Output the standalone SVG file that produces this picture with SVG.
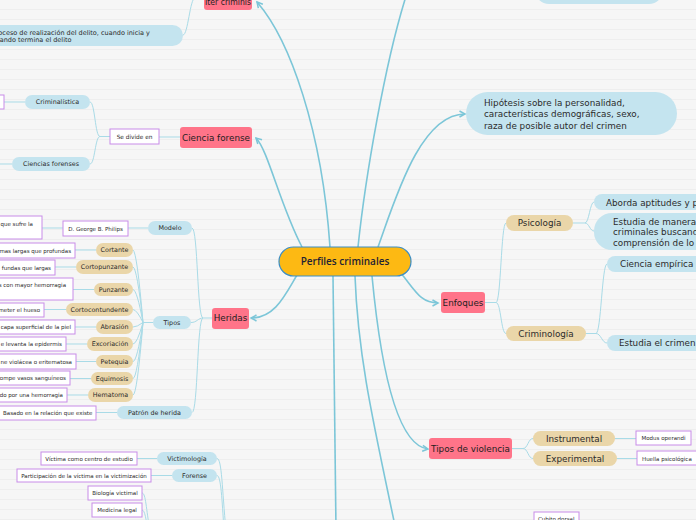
<svg xmlns="http://www.w3.org/2000/svg" width="696" height="520" viewBox="0 0 696 520">
<defs>
<pattern id="bg" width="10" height="10" patternUnits="userSpaceOnUse"><rect width="10" height="10" fill="#f6f6f6"/><line x1="0" y1="9.5" x2="10" y2="9.5" stroke="#eeeeee" stroke-width="1"/></pattern>
<marker id="arr" markerUnits="userSpaceOnUse" markerWidth="10" markerHeight="10" refX="6.5" refY="4" orient="auto"><path d="M1,1 L6.5,4 L1,7" fill="none" stroke="#7cc6d8" stroke-width="1.5"/></marker>
</defs>
<style>
text{font-family:"DejaVu Sans",Verdana,sans-serif;fill:#2b2b2b}
.main{fill:none;stroke:#7cc6d8;stroke-width:1.6}
.sub{fill:none;stroke:#a9dbe7;stroke-width:1}
.pink{fill:#ff7489}
.pink+text,.pt{font-size:8.8px;text-anchor:middle;fill:#1e1e1e}
.blue{fill:#c4e4ef}
.tan{fill:#ead6a9}
.pur{fill:#ffffff;stroke:#c88ce8;stroke-width:1}
.s{font-size:6.4px;text-anchor:middle}
.p{font-size:5.5px}
.pc{font-size:5.5px;text-anchor:middle}
.pe{font-size:5.5px;text-anchor:end}
.l{font-size:8.8px}
</style>
<rect width="696" height="520" fill="url(#bg)"/>

<g id="connectors">
<path class="main" d="M330 247 C322 130 290 40 257 2" marker-end="url(#arr)"/>
<path class="main" d="M302 247 C280 205 268 150 256 138" marker-end="url(#arr)"/>
<path class="main" d="M358 247 C365 180 385 60 408 -10"/>
<path class="main" d="M378 247 C395 200 420 114 465 114" marker-end="url(#arr)"/>
<path class="main" d="M297 275 C285 295 275 318 251 318" marker-end="url(#arr)"/>
<path class="main" d="M400 272 C415 290 420 303 438 303" marker-end="url(#arr)"/>
<path class="main" d="M372 276 C380 360 395 445 428 449" marker-end="url(#arr)"/>
<path class="main" d="M333 276 L336 530"/>
<path class="main" d="M355 276 C358 360 375 430 398 540"/>

<path class="sub" d="M204 -2 L195 -2 C190 -2 188 35 183 35"/>
<path class="sub" d="M180 137 L159 137"/>
<path class="sub" d="M110 136.5 L100 136.5 M100 136.5 C95 136.5 95 102 90 102 M100 136.5 C95 136.5 95 164 90 164"/>
<path class="sub" d="M25 102 L4 102 M12 164 L-5 164"/>
<path class="sub" d="M212 318 L203 318 M203 318 C197 318 198 228 192 228 M203 318 C198 318 197 322.5 191 322.5 M203 318 C197 318 198 412.5 192 412.5"/>
<path class="sub" d="M148 228 L128 228 M63 228 L42 228 M117 412.5 L96 412.5"/>
<path class="sub" d="M153 322.5 L143 322.5"/>
<path class="sub" d="M143 322.5 Q137 252 133 250 M143 322.5 Q137 268 133 267 M143 322.5 Q137 290 133 289.5 M143 322.5 Q137 310 133 309.5 M143 322.5 Q137 327 133 327 M143 322.5 Q137 344 133 344 M143 322.5 Q137 361.5 133 361.5 M143 322.5 Q137 378.5 133 378.5 M143 322.5 Q137 395 133 395"/>
<path class="sub" d="M96 250 L75 250 M76 267 L55 267 M94 289.5 L73 289.5 M66 309.5 L44 309.5 M96 327 L75 327 M87 344 L66 344 M96 361.5 L76 361.5 M91 378.5 L70 378.5 M88 395 L67 395"/>
<path class="sub" d="M485 302.5 L496 302.5 M496 302.5 C501 302.5 501 223 506 223 M496 302.5 C501 302.5 501 333.5 506 333.5"/>
<path class="sub" d="M573 223 L585 223 M585 223 C589 223 590 202 594 202 M585 223 C589 223 590 231 594 231"/>
<path class="sub" d="M586 333.5 L596 333.5 M596 333.5 C601 333.5 602 264 607 264 M596 333.5 C601 333.5 602 343 607 343"/>
<path class="sub" d="M512 448.5 L523 448.5 M523 448.5 C528 448.5 528 438.5 533 438.5 M523 448.5 C528 448.5 528 458.5 533 458.5"/>
<path class="sub" d="M615 438.5 L636 438.5 M617 458.5 L637 458.5"/>
<path class="sub" d="M157 458.5 L137 458.5 M172 475.5 L151 475.5"/>
<path class="sub" d="M217 458.5 C222 458.5 222 490 226 530 M217 475.5 C221 475.5 222 500 224 530"/>
<path class="sub" d="M142 493 C146 493 146 510 150 530 M142 510 C145 510 146 520 148 530"/>
</g>

<g id="n-center"><rect x="279" y="247" width="132" height="29" rx="14.5" fill="#fdb913" stroke="#3a8dc5" stroke-width="1.2"/><text x="345" y="265" style="font-family:'Open Sans','DejaVu Sans',sans-serif;font-weight:600;font-size:10px;text-anchor:middle;fill:#1f2233">Perfiles criminales</text></g>

<g id="n-iter"><rect class="pink" x="204" y="-14" width="48" height="24" rx="3"/><text x="228" y="4.5" textLength="46" lengthAdjust="spacingAndGlyphs">Iter criminis</text></g>
<g id="n-proceso"><rect class="blue" x="-20" y="25" width="203" height="21" rx="10.5"/><text x="-8" y="34.5" style="font-size:6.5px">Proceso de realización del delito, cuando inicia y</text><text x="-8" y="41.5" style="font-size:6.5px">cuando termina el delito</text></g>

<g id="n-ciencia"><rect class="pink" x="180" y="127" width="72" height="21" rx="3"/><text x="216" y="140.5">Ciencia forense</text></g>
<g id="n-divide"><rect class="pur" x="110" y="129" width="49" height="15"/><text x="134.5" y="139" style="font-size:5.8px;text-anchor:middle">Se divide en</text></g>
<g id="n-criminalistica"><rect class="blue" x="25" y="95" width="65" height="14" rx="7"/><text class="s" x="57.5" y="104.3">Criminalística</text></g>
<g id="n-crim-box"><rect class="pur" x="-40" y="95" width="44" height="14"/></g>
<g id="n-cienciasf"><rect class="blue" x="12" y="157" width="78" height="14" rx="7"/><text class="s" x="51" y="166.3">Ciencias forenses</text></g>

<g id="n-heridas"><rect class="pink" x="212" y="308" width="37" height="21" rx="3"/><text x="230.5" y="321">Heridas</text></g>
<g id="n-modelo"><rect class="blue" x="148" y="221" width="44" height="14" rx="7"/><text class="s" x="170" y="230.3">Modelo</text></g>
<g id="n-philips"><rect class="pur" x="63" y="221" width="65" height="15"/><text class="pc" x="95.5" y="230.5">D. George B. Philips</text></g>
<g id="n-sufre"><rect class="pur" x="-40" y="216" width="82" height="23"/><text class="pe" x="33" y="226">que sufre la</text></g>
<g id="n-tipos"><rect class="blue" x="153" y="316" width="38" height="13" rx="6.5"/><text class="s" x="172" y="324.8">Tipos</text></g>
<g id="n-patron"><rect class="blue" x="117" y="406" width="75" height="13" rx="6.5"/><text class="s" x="154.5" y="415">Patrón de herida</text></g>
<g id="n-basado"><rect class="pur" x="-2" y="406" width="98" height="14"/><text class="p" x="3" y="415">Basado en la relación que existe</text></g>

<g id="n-cortante"><rect class="tan" x="96" y="243" width="37" height="14" rx="7"/><text class="s" x="114.5" y="252.3">Cortante</text></g>
<g id="n-cortante-d"><rect class="pur" x="-60" y="243" width="135" height="15"/><text class="pe" x="71" y="252.5">mas largas que profundas</text></g>
<g id="n-cortopunzante"><rect class="tan" x="76" y="260" width="57" height="14" rx="7"/><text class="s" x="104.5" y="269.3">Cortopunzante</text></g>
<g id="n-cortopunzante-d"><rect class="pur" x="-60" y="260" width="115" height="15"/><text class="pe" x="51" y="269.5">fundas que largas</text></g>
<g id="n-punzante"><rect class="tan" x="94" y="283" width="39" height="13" rx="6.5"/><text class="s" x="113.5" y="291.8">Punzante</text></g>
<g id="n-punzante-d"><rect class="pur" x="-60" y="278" width="133" height="22"/><text class="pe" x="66" y="287">s con mayor hemorragia</text></g>
<g id="n-cortocontundente"><rect class="tan" x="66" y="303" width="67" height="13" rx="6.5"/><text class="s" x="99.5" y="311.8">Cortocontundente</text></g>
<g id="n-cortocontundente-d"><rect class="pur" x="-60" y="303" width="104" height="14"/><text class="pe" x="40" y="312">meter el hueso</text></g>
<g id="n-abrasion"><rect class="tan" x="96" y="320" width="37" height="14" rx="7"/><text class="s" x="114.5" y="329.3">Abrasión</text></g>
<g id="n-abrasion-d"><rect class="pur" x="-60" y="320" width="135" height="14"/><text class="pe" x="71" y="329">capa superficial de la piel</text></g>
<g id="n-excoriacion"><rect class="tan" x="87" y="337" width="46" height="14" rx="7"/><text class="s" x="110" y="346.3">Excoriación</text></g>
<g id="n-excoriacion-d"><rect class="pur" x="-60" y="337" width="126" height="14"/><text class="pe" x="62" y="346">e levanta la epidermis</text></g>
<g id="n-petequia"><rect class="tan" x="96" y="355" width="37" height="13" rx="6.5"/><text class="s" x="114.5" y="363.8">Petequia</text></g>
<g id="n-petequia-d"><rect class="pur" x="-60" y="354" width="136" height="15"/><text class="pe" x="72" y="363.5">ne violácea o eritematosa</text></g>
<g id="n-equimosis"><rect class="tan" x="91" y="372" width="42" height="13" rx="6.5"/><text class="s" x="112" y="380.8">Equimosis</text></g>
<g id="n-equimosis-d"><rect class="pur" x="-60" y="371" width="130" height="14"/><text class="pe" x="66" y="380">ompe vasos sanguíneos</text></g>
<g id="n-hematoma"><rect class="tan" x="88" y="388" width="45" height="14" rx="7"/><text class="s" x="110.5" y="397.3">Hematoma</text></g>
<g id="n-hematoma-d"><rect class="pur" x="-60" y="388" width="127" height="14"/><text class="pe" x="63" y="397">do por una hemorragia</text></g>

<g id="n-hipotesis"><rect class="blue" x="466" y="92" width="211" height="43" rx="21.5"/><text class="l" x="484" y="106">Hipótesis sobre la personalidad,</text><text class="l" x="484" y="117.3">características demográficas, sexo,</text><text class="l" x="484" y="128.7">raza de posible autor del crimen</text></g>
<g id="n-top"><rect class="blue" x="535" y="-25" width="128" height="29" rx="14"/></g>

<g id="n-enfoques"><rect class="pink" x="441" y="292" width="44" height="21" rx="3"/><text x="463" y="305.5">Enfoques</text></g>
<g id="n-psicologia"><rect class="tan" x="506" y="215" width="67" height="16" rx="8"/><text class="pt" x="539.5" y="226" style="fill:#2b2b2b">Psicología</text></g>
<g id="n-criminologia"><rect class="tan" x="506" y="326" width="80" height="15" rx="7.5"/><text class="pt" x="546" y="337" style="fill:#2b2b2b">Criminología</text></g>
<g id="n-aborda"><rect class="blue" x="594" y="194" width="130" height="16" rx="8"/><text class="l" x="606" y="205.5">Aborda aptitudes y p</text></g>
<g id="n-estudia"><rect class="blue" x="594" y="213" width="130" height="37" rx="18"/><text class="l" x="613" y="224.5">Estudia de manera</text><text class="l" x="613" y="235">criminales buscand</text><text class="l" x="613" y="245.5">comprensión de lo</text></g>
<g id="n-empirica"><rect class="blue" x="607" y="256" width="120" height="16" rx="8"/><text class="l" x="620" y="267">Ciencia empírica</text></g>
<g id="n-crimen"><rect class="blue" x="607" y="335" width="120" height="16" rx="8"/><text class="l" x="619" y="346.3">Estudia el crimen</text></g>

<g id="n-violencia"><rect class="pink" x="429" y="438" width="83" height="21" rx="3"/><text x="470.5" y="451.5">Tipos de violencia</text></g>
<g id="n-instrumental"><rect class="tan" x="533" y="431" width="82" height="15" rx="7.5"/><text class="pt" x="574" y="442" style="fill:#2b2b2b">Instrumental</text></g>
<g id="n-experimental"><rect class="tan" x="533" y="451" width="84" height="15" rx="7.5"/><text class="pt" x="575" y="462" style="fill:#2b2b2b">Experimental</text></g>
<g id="n-modus"><rect class="pur" x="636" y="431" width="55" height="14"/><text class="pc" x="663.5" y="440">Modus operandi</text></g>
<g id="n-huella"><rect class="pur" x="637" y="451" width="65" height="14"/><text class="p" x="642" y="460.5">Huella psicológica</text></g>
<g id="n-cubito"><rect class="pur" x="534" y="512" width="45" height="14"/><text class="p" x="538" y="521">Cubito dorsal</text></g>

<g id="n-victimologia"><rect class="blue" x="157" y="452" width="60" height="13" rx="6.5"/><text class="s" x="187" y="460.8">Victimología</text></g>
<g id="n-victima"><rect class="pur" x="41" y="452" width="96" height="13"/><text class="pc" x="89" y="460.5">Víctima como centro de estudio</text></g>
<g id="n-forense"><rect class="blue" x="172" y="469" width="45" height="13" rx="6.5"/><text class="s" x="194.5" y="477.8">Forense</text></g>
<g id="n-participacion"><rect class="pur" x="17" y="469" width="134" height="13"/><text class="pc" x="84" y="477.5">Participación de la víctima en la victimización</text></g>
<g id="n-biologia"><rect class="pur" x="88" y="486" width="54" height="14"/><text class="pc" x="115" y="495">Biología victimal</text></g>
<g id="n-medicina"><rect class="pur" x="92" y="503" width="50" height="14"/><text class="pc" x="117" y="512">Medicina legal</text></g>
</svg>
